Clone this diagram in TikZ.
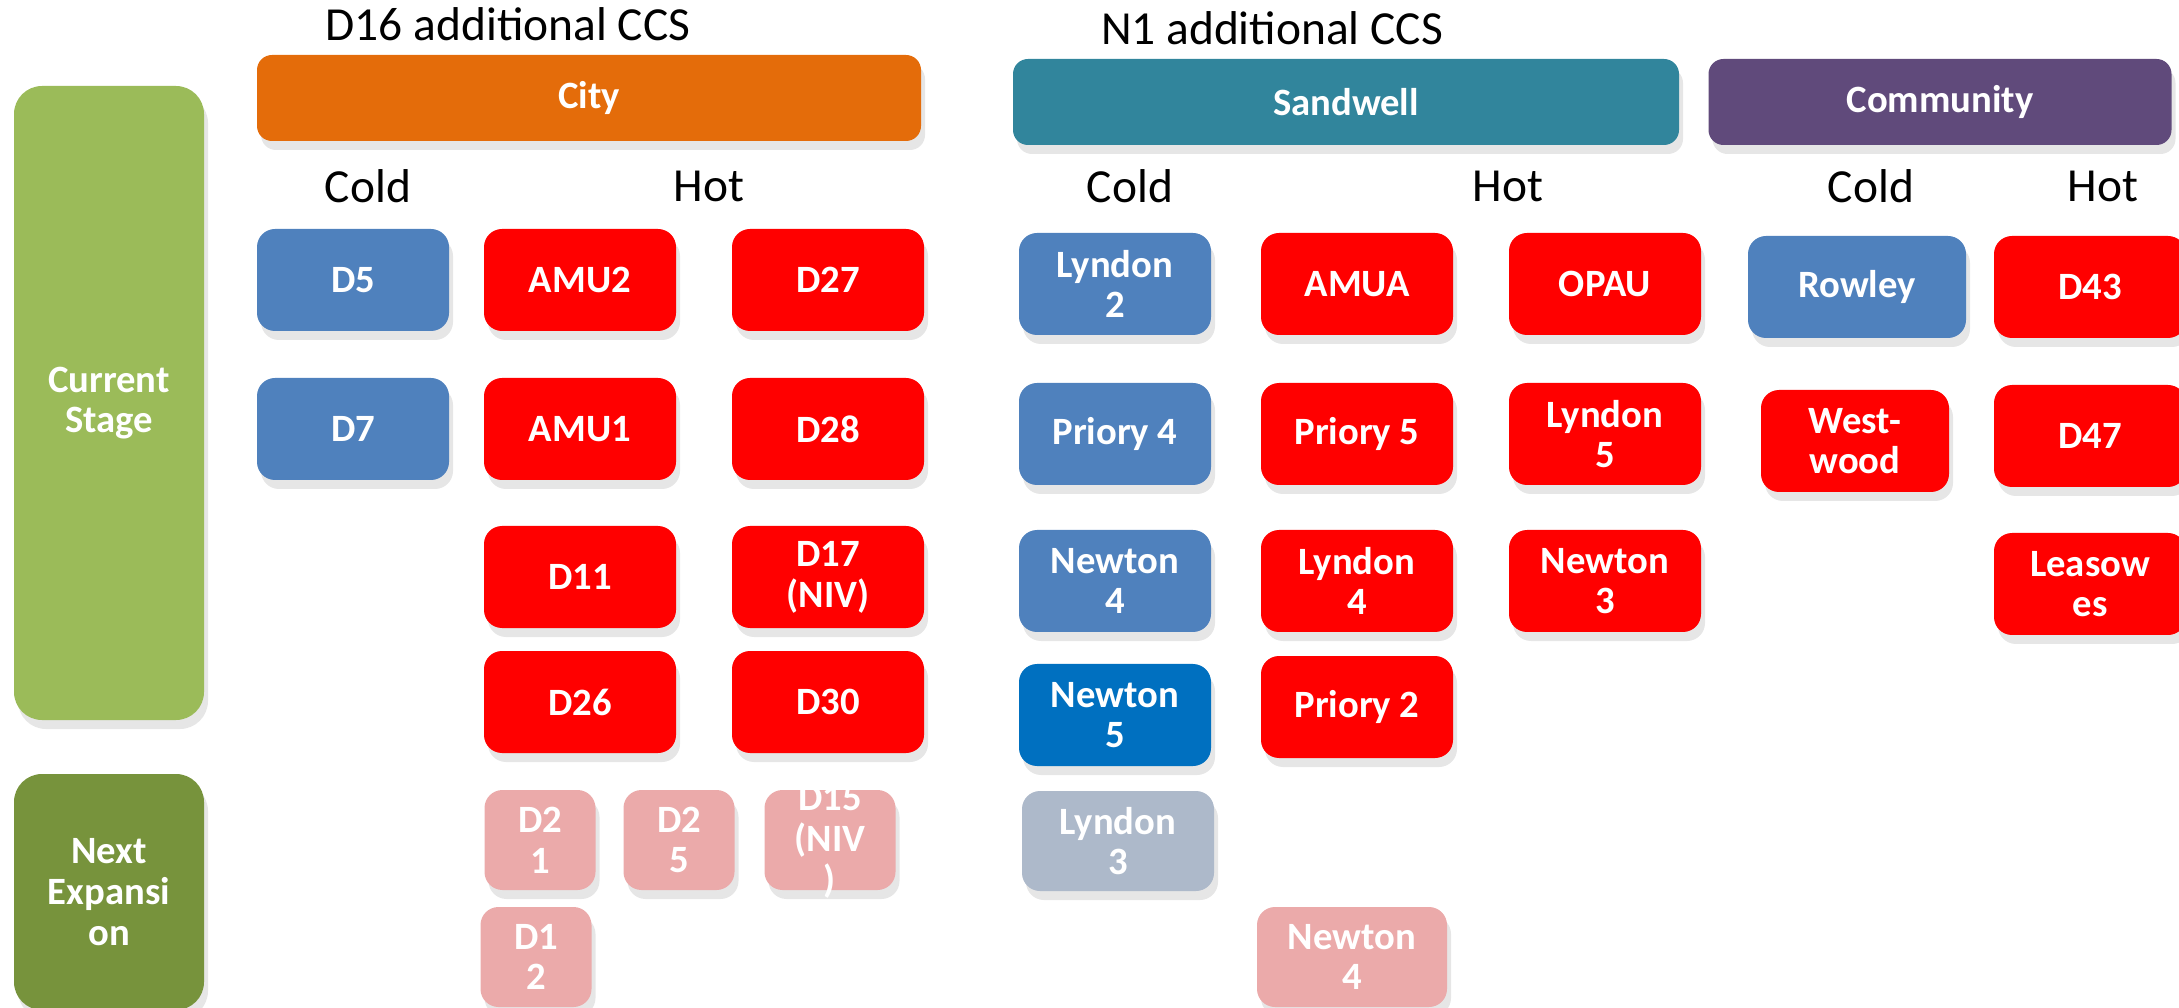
\documentclass[tikz,border=0pt]{standalone}
\usepackage{fontspec}
\setmainfont{Carlito}
\usetikzlibrary{shadows}

\definecolor{cityorange}{HTML}{E46C0A}
\definecolor{sandteal}{HTML}{31859C}
\definecolor{commpurple}{HTML}{604A7B}
\definecolor{coldblue}{HTML}{4F81BD}
\definecolor{deepblue}{HTML}{0070C0}
\definecolor{hotred}{HTML}{FF0000}
\definecolor{nextpink}{HTML}{EBAAAA}
\definecolor{nextgrey}{HTML}{ADB9CA}
\definecolor{stagegreen}{HTML}{9BBB59}
\definecolor{nextgreen}{HTML}{77933C}

\tikzset{
  softshadow/.style={drop shadow={shadow xshift=0.4mm, shadow yshift=-0.9mm, opacity=0.2}},
  boxtext/.style={align=center, text=white, font=\fontsize{11}{11.6}\selectfont\bfseries},
  unit/.style={boxtext, rounded corners=0.18cm, minimum width=1.92cm, minimum height=1.02cm, inner sep=1pt, softshadow},
  cold/.style={unit, fill=coldblue},
  hot/.style={unit, fill=hotred},
  nextcold/.style={unit, fill=nextgrey, minimum height=1.0cm},
  nexthot/.style={unit, fill=nextpink, minimum width=1.11cm, minimum height=1.0cm},
  header/.style={boxtext, rounded corners=0.15cm, minimum height=0.86cm, softshadow},
  stagebox/.style={boxtext, rounded corners=0.28cm, minimum width=1.9cm, softshadow},
  heading/.style={font=\fontsize{13.5}{16}\selectfont}
}

\begin{document}
\begin{tikzpicture}[y=-1cm]

\useasboundingbox (0,0) rectangle (21.79,10.08);

% stages
\node[stagebox, fill=stagegreen, minimum height=6.34cm] (current) at (1.09,4.03) {Current\\Stage};
\node[stagebox, fill=nextgreen, minimum height=2.36cm] (next) at (1.09,8.92) {Next\\Expansi\\on};

% City
\node[heading] (d16title) at (5.08,0.24) {D16 additional CCS};
\node[header, fill=cityorange, minimum width=6.64cm] (city) at (5.89,0.98) {City};
\node[heading] (citycold) at (3.68,1.86) {Cold};
\node[heading] (cityhot) at (7.09,1.86) {Hot};

\node[cold] (d5) at (3.53,2.80) {D5};
\node[cold] (d7) at (3.53,4.29) {D7};

\node[hot] (amu2) at (5.80,2.80) {AMU2};
\node[hot] (amu1) at (5.80,4.29) {AMU1};
\node[hot] (d11) at (5.80,5.77) {D11};
\node[hot] (d26) at (5.80,7.02) {D26};

\node[hot] (d27) at (8.28,2.80) {D27};
\node[hot] (d28) at (8.28,4.29) {D28};
\node[hot] (d17) at (8.28,5.77) {D17\\(NIV)};
\node[hot] (d30) at (8.28,7.02) {D30};

\node[nexthot] (d21) at (5.40,8.40) {D2\\1};
\node[nexthot] (d25) at (6.79,8.40) {D2\\5};
\node[nexthot, minimum width=1.31cm] (d15) at (8.30,8.40) {};
\node[boxtext] (d15text) at (8.30,8.42) {D15\\(NIV\\)};
\node[nexthot] (d12) at (5.36,9.57) {D1\\2};

% Sandwell
\node[heading] (n1title) at (12.72,0.28) {N1 additional CCS};
\node[header, fill=sandteal, minimum width=6.66cm] (sandwell) at (13.46,1.02) {Sandwell};
\node[heading] (sandcold) at (11.30,1.86) {Cold};
\node[heading] (sandhot) at (15.08,1.86) {Hot};

\node[cold] (lyndon2) at (11.15,2.84) {Lyndon\\2};
\node[cold] (priory4) at (11.15,4.34) {Priory 4};
\node[cold] (newton4) at (11.15,5.81) {Newton\\4};
\node[cold, fill=deepblue] (newton5) at (11.15,7.15) {Newton\\5};
\node[nextcold] (lyndon3) at (11.18,8.41) {Lyndon\\3};

\node[hot] (amua) at (13.57,2.84) {AMUA};
\node[hot] (priory5) at (13.57,4.34) {Priory 5};
\node[hot] (lyndon4) at (13.57,5.81) {Lyndon\\4};
\node[hot] (priory2) at (13.57,7.07) {Priory 2};
\node[nexthot, minimum width=1.90cm] (newton4next) at (13.52,9.57) {Newton\\4};

\node[hot] (opau) at (16.05,2.84) {OPAU};
\node[hot] (lyndon5) at (16.05,4.34) {Lyndon\\5};
\node[hot] (newton3) at (16.05,5.81) {Newton\\3};

% Community
\node[header, fill=commpurple, minimum width=4.63cm] (community) at (19.40,1.02) {Community};
\node[heading] (commcold) at (18.71,1.86) {Cold};
\node[heading] (commhot) at (21.03,1.86) {Hot};

\node[cold, minimum width=2.18cm] (rowley) at (18.57,2.87) {Rowley};
\node[hot, minimum width=1.88cm] (westwood) at (18.55,4.41) {West-\\wood};

\node[hot] (d43) at (20.90,2.87) {D43};
\node[hot] (d47) at (20.90,4.36) {D47};
\node[hot] (leasowes) at (20.90,5.84) {Leasow\\es};

\end{tikzpicture}
\end{document}
